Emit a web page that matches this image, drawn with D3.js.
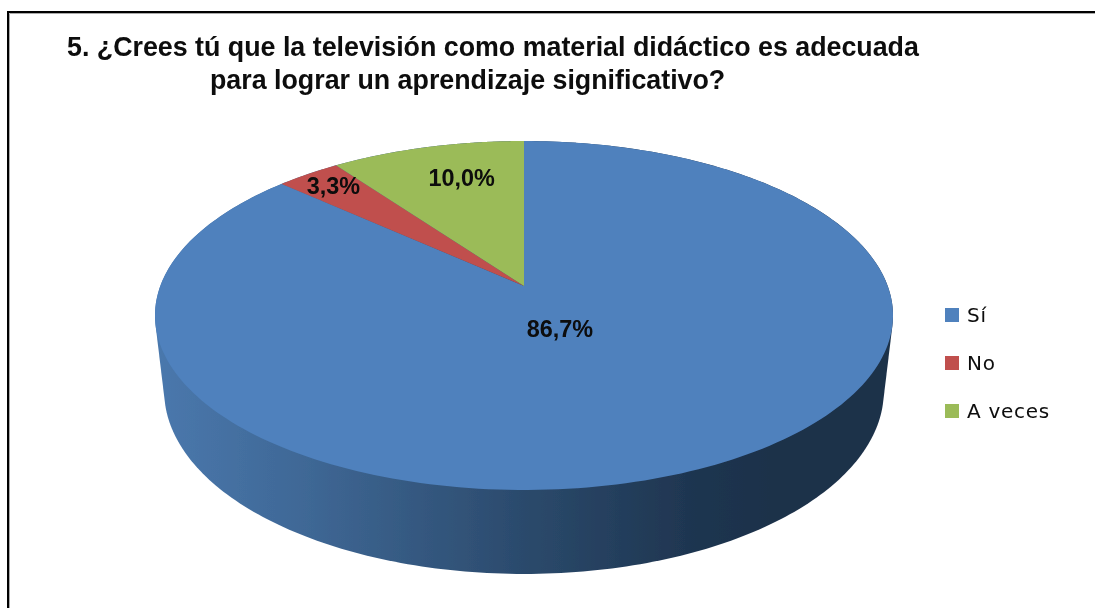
<!DOCTYPE html>
<html><head><meta charset="utf-8">
<script src="https://cdn.jsdelivr.net/npm/d3@7"></script>
<style>html,body{margin:0;padding:0;background:#fff;overflow:hidden}svg{display:block}</style>
</head><body><svg id="c" width="1095" height="608"></svg>
<script>
const categories = ["Sí", "No", "A veces"];
const seriesValues = [86.7, 3.3, 10.0];
const valueLabels = ["86,7%", "3,3%", "10,0%"];
const sliceColors = ["#4f81bd", "#c0504d", "#9bbb59"];
const titleLines = ["5. ¿Crees tú que la televisión como material didáctico es adecuada", "para lograr un aprendizaje significativo?"];

const svg = d3.select("#c");
const cx = 524, apexY = 286, a = 363.7, b = 169.5, p = 0.169, H = 77, q = 0.025;
function project(angle, r, z) {
  const u = r * Math.sin(angle), v = -r * Math.cos(angle);
  const w = 1 - p * v + q * z;
  return [cx + a * u / w, apexY + (b * v + H * z) / w];
}
const pie = d3.pie().sort(null).value(d => d)(seriesValues);
const line = d3.line();
const samples = (s, e, n) => d3.range(n + 1).map(i => s + (e - s) * i / n);

const defs = svg.append("defs");
const grad = defs.append("linearGradient").attr("id", "side").attr("gradientUnits", "userSpaceOnUse")
  .attr("x1", 155).attr("x2", 893).attr("y1", 0).attr("y2", 0);
[[0, "#4a78ad"], [0.2, "#3f6896"], [0.5, "#2b4a6c"], [0.72, "#1f3651"], [0.85, "#1c3049"], [1, "#1c3049"]]
  .forEach(([o, c]) => grad.append("stop").attr("offset", o).attr("stop-color", c));
defs.append("filter").attr("id", "soft").attr("x", "-5%").attr("y", "-5%").attr("width", "110%").attr("height", "110%")
  .append("feGaussianBlur").attr("stdDeviation", 0.45);

// frame: black rule with a grey inner edge
svg.append("path").attr("d", "M9.5,608V13.5H1095").attr("fill", "none").attr("stroke", "#aaa").attr("stroke-width", 1);
svg.append("path").attr("d", "M8,608V12H1095").attr("fill", "none").attr("stroke", "#000").attr("stroke-width", 2);

const art = svg.append("g").attr("filter", "url(#soft)");

// side wall: union of top and bottom rims
const full = samples(0, 2 * Math.PI, 360);
art.append("path").attr("fill", "url(#side)").attr("d", () => {
  const hull = d3.polygonHull(full.flatMap(t => [project(t, 1, 0), project(t, 1, 1)]));
  return line(hull) + "Z";
});

// top
art.selectAll("path.slice").data(pie).join("path").attr("class", "slice")
  .attr("fill", (d, i) => sliceColors[i])
  .attr("d", d => {
    const pts = samples(d.startAngle, d.endAngle, 240).map(t => project(t, 1, 0));
    return line([project(0, 0, 0), ...pts]) + "Z";
  });

// data labels
const labelR = [0.235, 0.87, 0.74], labelNudge = [[0, 5], [0, -1], [12, -1]];
art.selectAll("text.val").data(pie).join("text").attr("class", "val")
  .each(function (d, i) {
    const m = (d.startAngle + d.endAngle) / 2, [x, y] = project(m, labelR[i], 0);
    d3.select(this).attr("x", x + labelNudge[i][0]).attr("y", y + labelNudge[i][1]);
  })
  .attr("text-anchor", "middle").attr("dominant-baseline", "central")
  .attr("font-family", "Liberation Sans").attr("font-weight", 700).attr("font-size", 23.4).attr("fill", "#0a0a0a")
  .text((d, i) => valueLabels[i]);

// title
const titleX = [67, 210], titleY = [55.5, 88.5];
art.selectAll("text.title").data(titleLines).join("text").attr("class", "title")
  .attr("x", (d, i) => titleX[i]).attr("y", (d, i) => titleY[i])
  .attr("font-family", "Liberation Sans").attr("font-weight", 700).attr("font-size", 26.8).attr("fill", "#0a0a0a")
  .text(d => d);

// legend
const ly = d3.scalePoint().domain(categories).range([315, 411]);
const lg = art.selectAll("g.lg").data(categories).join("g").attr("class", "lg")
  .attr("transform", d => `translate(945,${ly(d)})`);
lg.append("rect").attr("x", 0).attr("y", -7).attr("width", 14).attr("height", 14).attr("fill", (d, i) => sliceColors[i]);
lg.append("text").attr("x", 22).attr("y", 7).attr("font-family", "DejaVu Sans").attr("font-size", 20).attr("letter-spacing", 0.7).attr("fill", "#0a0a0a").text(d => d);
</script></body></html>
